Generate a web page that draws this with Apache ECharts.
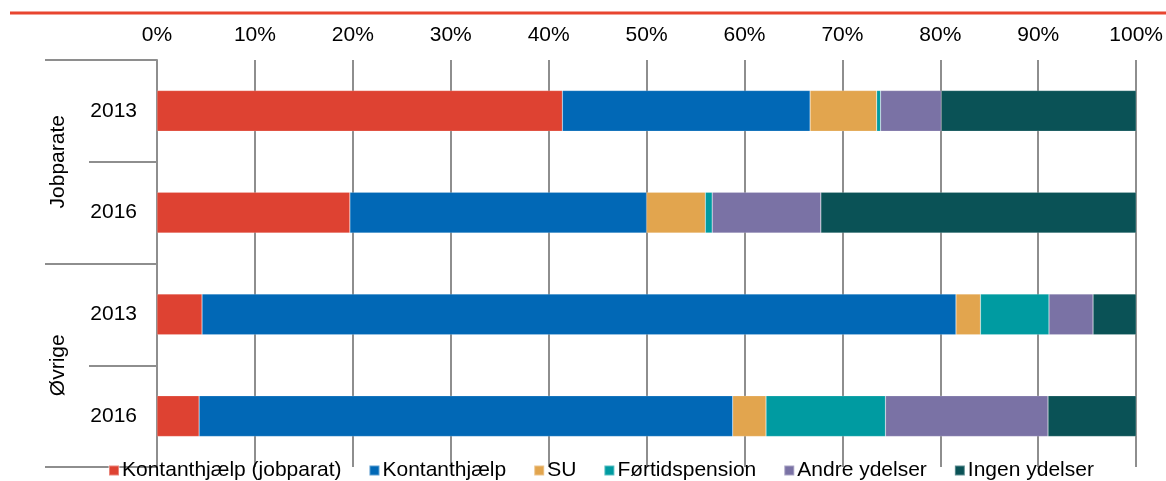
<!DOCTYPE html>
<html>
<head>
<meta charset="utf-8">
<script src="https://cdn.jsdelivr.net/npm/echarts@6/dist/echarts.min.js"></script>
<style>
  html, body { margin: 0; padding: 0; background: #fff; }
  #chart { width: 1166px; height: 481px; }
</style>
</head>
<body>
<div id="chart"></div>
<script>
// rows top to bottom
const groups = ["Jobparate", "Øvrige"];
const rows = ["Jobparate|2013", "Jobparate|2016", "Øvrige|2013", "Øvrige|2016"];
const xTicks = [0, 10, 20, 30, 40, 50, 60, 70, 80, 90, 100];

const seriesNames = ["Kontanthjælp (jobparat)", "Kontanthjælp", "SU", "Førtidspension", "Andre ydelser", "Ingen ydelser"];
const kontJob = [41.4, 19.7, 4.6, 4.3];
const kont = [25.3, 30.3, 77.0, 54.5];
const su = [6.8, 6.0, 2.5, 3.4];
const fortid = [0.4, 0.7, 7.0, 12.2];
const andre = [6.2, 11.1, 4.5, 16.6];
const ingen = [19.9, 32.2, 4.4, 9.0];
const colors = ["#de4232", "#0168b6", "#e2a54e", "#009ba1", "#7a72a5", "#0a5256"];

const font = "Liberation Sans, Arial, sans-serif";
const values = [kontJob, kont, su, fortid, andre, ingen];

var chart = echarts.init(document.getElementById("chart"));

let series = seriesNames.map(function (name, i) {
  return {
    name: name,
    type: "bar",
    stack: "total",
    barWidth: "40%",
    yAxisIndex: 0,
    itemStyle: { color: colors[i], borderColor: "rgba(255,255,255,0.35)", borderWidth: 0.5 },
    data: values[i]
  };
});

let option = {
  animation: false,
  textStyle: { fontFamily: font },
  graphic: [
    {
      type: "line",
      shape: { x1: 10, y1: 13, x2: 1166, y2: 13 },
      style: { stroke: "#e8452f", lineWidth: 3 }
    }
  ],
  legend: {
    data: seriesNames,
    left: 103,
    top: 455,
    icon: "rect",
    itemWidth: 10,
    itemHeight: 10,
    itemGap: 27,
    textStyle: { fontSize: 21, color: "#000", fontFamily: font, padding: [0, 0, 0, -2] }
  },
  grid: { left: 157, right: 28, top: 60, bottom: 14 },
  xAxis: {
    type: "value",
    position: "top",
    min: 0,
    max: 100,
    interval: 10,
    axisLine: { show: false },
    axisTick: { show: false },
    axisLabel: {
      formatter: "{value}%",
      fontSize: 21,
      color: "#000",
      margin: 14,
      fontFamily: font
    },
    splitLine: { lineStyle: { color: "#8e8e8e", width: 2 } }
  },
  yAxis: [
    {
      type: "category",
      inverse: true,
      data: rows,
      axisLine: { show: true, lineStyle: { color: "#8e8e8e", width: 2 } },
      axisTick: { show: true, length: 68, interval: 0, lineStyle: { color: "#8e8e8e", width: 2 } },
      axisLabel: {
        fontSize: 21,
        color: "#000",
        margin: 20,
        fontFamily: font,
        formatter: function (v) { return v.split("|")[1]; }
      }
    },
    {
      type: "category",
      inverse: true,
      position: "left",
      data: groups,
      axisLine: { show: false },
      axisTick: { show: true, length: 112, interval: 0, lineStyle: { color: "#8e8e8e", width: 2 } },
      axisLabel: {
        fontSize: 21,
        color: "#000",
        rotate: 90,
        margin: 88,
        fontFamily: font
      }
    }
  ],
  series: series
};

chart.setOption(option);
</script>
</body>
</html>
